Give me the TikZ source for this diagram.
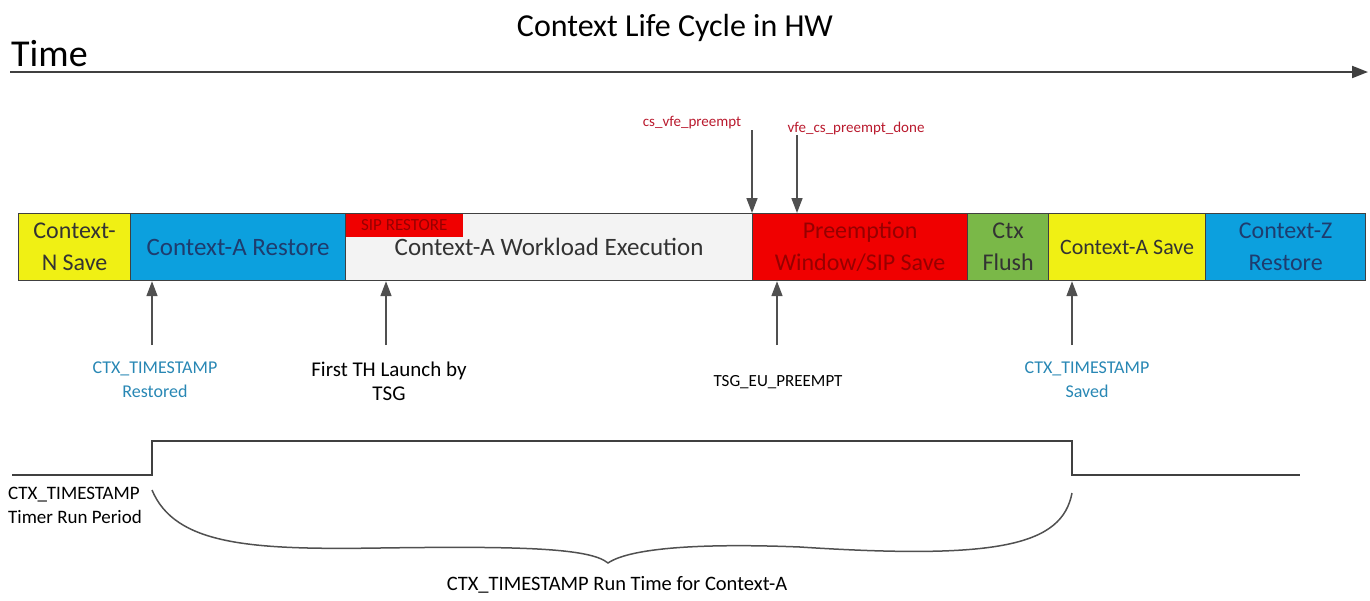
\documentclass[tikz,border=0pt]{standalone}
\usepackage{fontspec}
\setmainfont{Carlito}
\usetikzlibrary{arrows.meta}
\definecolor{cyel}{RGB}{240,240,20}
\definecolor{cblu}{RGB}{12,160,222}
\definecolor{cred}{RGB}{240,0,0}
\definecolor{cgrn}{RGB}{122,184,72}
\definecolor{cwht}{RGB}{243,243,243}
\definecolor{cbord}{RGB}{64,64,64}
\definecolor{tnavy}{RGB}{30,60,110}
\definecolor{tdred}{RGB}{150,0,0}
\definecolor{tteal}{RGB}{40,135,180}
\definecolor{tlred}{RGB}{185,25,45}
\definecolor{carr}{RGB}{80,80,80}
\begin{document}
\begin{tikzpicture}[x=1pt,y=-1pt,
  seg/.style={draw=cbord, line width=1.2pt, minimum height=67pt, anchor=north west,
    inner sep=0pt, align=center, font=\fontsize{24}{32}\selectfont, text=black!80},
  arr/.style={draw=carr, line width=1.6pt, -{Triangle[length=15pt,width=11pt]}},
  axis/.style={draw=cbord, line width=2pt, -{Triangle[length=16pt,width=12pt]}},
  wave/.style={draw=cbord, line width=2pt},
  brace/.style={draw=carr, line width=1.5pt},
  lbl/.style={font=\fontsize{18}{24}\selectfont, align=center, inner sep=0pt},
  sig/.style={font=\fontsize{15}{18}\selectfont, text=tlred, inner sep=0pt}
]
\useasboundingbox (0,0) rectangle (1370,600);

% title and time axis
\node[font=\fontsize{32}{36}\selectfont, inner sep=0pt] (title) at (675,28) {Context Life Cycle in HW};
\node[font=\fontsize{38}{42}\selectfont, inner sep=0pt, anchor=west] (time) at (11,54) {Time};
\coordinate (t0) at (10,72);
\coordinate (t1) at (1368,72);
\draw[axis] (t0) -- (t1);

% bar segments
\node[seg, fill=cyel, minimum width=112pt] (ns) at (18,213) {Context-\\N Save};
\node[seg, fill=cblu, minimum width=215pt, text=tnavy, font=\fontsize{25}{32}\selectfont] (ar) at (130,213) {Context-A Restore};
\node[seg, fill=cwht, minimum width=407pt, font=\fontsize{25}{32}\selectfont] (we) at (345,213) {Context-A Workload Execution};
\node[seg, fill=cred, minimum width=215pt, text=tdred] (pw) at (752,213) {Preemption\\Window/SIP Save};
\node[seg, fill=cgrn, minimum width=81pt] (cf) at (967,213) {Ctx\\Flush};
\node[seg, fill=cyel, minimum width=157pt, font=\fontsize{22}{32}\selectfont] (as) at (1048,213) {Context-A Save};
\node[seg, fill=cblu, minimum width=160pt, text=tnavy] (zr) at (1205,213) {Context-Z\\Restore};
\node[fill=cred, anchor=north west, minimum width=117pt, minimum height=23pt, inner sep=0pt,
  font=\fontsize{17}{18}\selectfont, text=tdred] (sip) at (345.6,213.6) {SIP RESTORE};

% signal labels above
\node[sig] (csv) at (692,123) {cs\_vfe\_preempt};
\node[sig] (vcs) at (856,128) {vfe\_cs\_preempt\_done};
\coordinate (d1) at (752,130);
\coordinate (d2) at (797,135);
\draw[arr] (d1) -- (d1 |- pw.north);
\draw[arr] (d2) -- (d2 |- pw.north);

% event arrows below
\coordinate (u1) at (152,345);
\coordinate (u2) at (386,345);
\coordinate (u3) at (777,345);
\coordinate (u4) at (1072,345);
\draw[arr] (u1) -- (u1 |- ar.south);
\draw[arr] (u2) -- (u2 |- we.south);
\draw[arr] (u3) -- (u3 |- pw.south);
\draw[arr] (u4) -- (u4 |- as.south);

\node[lbl, text=tteal] (lr) at (155,380) {CTX\_TIMESTAMP\\Restored};
\node[lbl, font=\fontsize{21}{24}\selectfont] (lf) at (389,381) {First TH Launch by\\TSG};
\node[lbl, font=\fontsize{17}{24}\selectfont] (lt) at (778,382) {TSG\_EU\_PREEMPT};
\node[lbl, text=tteal] (ls) at (1087,380) {CTX\_TIMESTAMP\\Saved};

% timer waveform
\coordinate (w0) at (12,475);
\coordinate (w1) at (152,475);
\coordinate (w2) at (152,441);
\coordinate (w3) at (1072,441);
\coordinate (w4) at (1072,475);
\coordinate (w5) at (1300,475);
\draw[wave] (w0) -- (w1) -- (w2) -- (w3) -- (w4) -- (w5);
\node[lbl, align=left, anchor=west, font=\fontsize{19}{24}\selectfont] (lp) at (8,505) {CTX\_TIMESTAMP\\Timer Run Period};

% brace
\coordinate (b0) at (152,490);
\coordinate (bt) at (608,563);
\coordinate (b1) at (1072,493);
\draw[brace] (b0) .. controls (175,545) and (250,550) .. (380,548)
  .. controls (520,546) and (590,548) .. (bt)
  .. controls (630,548) and (700,543) .. (800,547)
  .. controls (1000,560) and (1062,545) .. (b1);
\node[lbl, font=\fontsize{20.5}{24}\selectfont] (lrt) at (617,585) {CTX\_TIMESTAMP Run Time for Context-A};
\end{tikzpicture}
\end{document}
